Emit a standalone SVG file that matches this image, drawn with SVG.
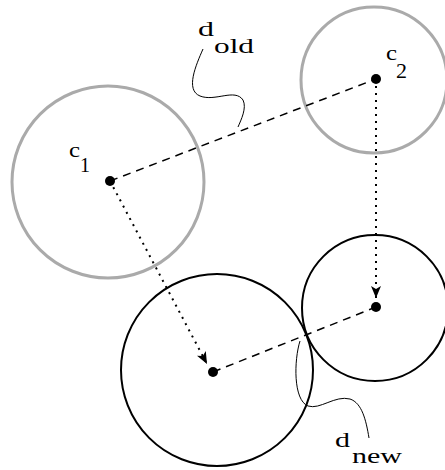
<svg xmlns="http://www.w3.org/2000/svg" width="445" height="470" viewBox="0 0 445 470">
<style>
.old{fill:none;stroke:#aaaaaa;stroke-width:3}
.new{fill:none;stroke:#000;stroke-width:2}
.dot{fill:#000}
.dash{fill:none;stroke:#000;stroke-width:1.5;stroke-dasharray:8 6}
.dotted{fill:none;stroke:#000;stroke-width:2;stroke-dasharray:2 5}
.lead{fill:none;stroke:#000;stroke-width:1}
text{font-family:"Liberation Serif","DejaVu Serif",serif;font-size:21px;fill:#000}
</style>
<defs>
<marker id="arr" markerWidth="13" markerHeight="10" refX="12" refY="5" orient="auto" markerUnits="userSpaceOnUse">
<path d="M0,0 L12,5 L0,10 L3,5 Z" fill="#000"/>
</marker>
</defs>
<g id="c1-old"><circle class="old" cx="108" cy="182" r="96"/><circle class="dot" cx="110" cy="181" r="5"/><text x="69" y="157" textLength="11" lengthAdjust="spacingAndGlyphs">c</text><text x="80" y="172" textLength="10" lengthAdjust="spacingAndGlyphs">1</text></g>
<g id="c2-old"><circle class="old" cx="374" cy="80" r="73"/><circle class="dot" cx="376" cy="79" r="5"/><text x="386" y="60" textLength="11" lengthAdjust="spacingAndGlyphs">c</text><text x="396" y="78" textLength="11" lengthAdjust="spacingAndGlyphs">2</text></g>
<g id="c1-new"><circle class="new" cx="217" cy="370" r="96"/><circle class="dot" cx="213" cy="372" r="5"/></g>
<g id="c2-new"><circle class="new" cx="375" cy="308" r="73"/><circle class="dot" cx="376" cy="307" r="5"/></g>
<g id="connectors">
<line class="dash" x1="110" y1="181" x2="376" y2="79"/>
<line class="dash" x1="213" y1="372" x2="376" y2="307"/>
<line class="dotted" x1="110" y1="181" x2="207" y2="364" marker-end="url(#arr)"/>
<line class="dotted" x1="376" y1="79" x2="376" y2="298" marker-end="url(#arr)"/>
<path class="lead" d="M203,49 C196,65 185,90 200,96 C215,102 235,88 243,100 C247,108 241,120 238,127"/>
<path class="lead" d="M300,341 C294,360 293,400 308,406 C320,410 335,395 350,399 C362,403 366,420 369,438"/>
</g>
<g id="label-dold"><text x="198" y="36" textLength="16" lengthAdjust="spacingAndGlyphs">d</text><text x="214" y="53" textLength="40" lengthAdjust="spacingAndGlyphs">old</text></g>
<g id="label-dnew"><text x="335" y="447" textLength="15" lengthAdjust="spacingAndGlyphs">d</text><text x="352" y="463" textLength="50" lengthAdjust="spacingAndGlyphs">new</text></g>
</svg>
